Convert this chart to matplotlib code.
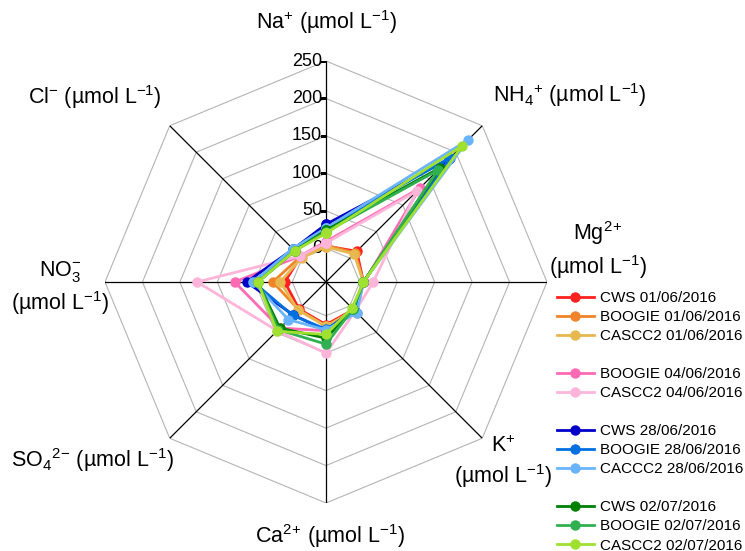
import numpy as np
import matplotlib
matplotlib.use("Agg")
import matplotlib.pyplot as plt
from matplotlib.lines import Line2D
from matplotlib.transforms import offset_copy

plt.rcParams['font.family'] = ['Liberation Sans', 'DejaVu Sans']
plt.rcParams['mathtext.default'] = 'regular'

# axes, clockwise from the top
ions = ['Na', 'NH4', 'Mg', 'K', 'Ca', 'SO4', 'NO3', 'Cl']
ion_labels = [r'Na$^{+}$ (µmol L$^{-1}$)',
              r'NH$_4$$^{+}$ (µmol L$^{-1}$)',
              'Mg$^{2}$$^{+}$\n(µmol L$^{-1}$)',
              'K$^{+}$\n(µmol L$^{-1}$)',
              r'Ca$^{2}$$^{+}$ (µmol L$^{-1}$)',
              r'SO$_4$$^{2}$$^{-}$ (µmol L$^{-1}$)',
              'NO$_3^{-}$\n(µmol L$^{-1}$)',
              r'Cl$^{-}$ (µmol L$^{-1}$)']
ticks = [0, 50, 100, 150, 200, 250]

# concentrations (µmol/L): Na, NH4, Mg, K, Ca, SO4, NO3, Cl
cws_0106     = [3, 13, 5, 7, 12, 6, 10, 3]
boogie_0106  = [4, 10, 5, 13, 14, 7, 26, 3]
cascc2_0106  = [2, 8, 5, 8, 14, 8, 16, 1]
boogie_0406  = [9, 132, 6, 7, 20, 42, 77, 4]
cascc2_0406  = [7, 127, 18, 10, 50, 47, 127, 4]
cws_2806     = [32, 187, 5, 7, 20, 17, 61, 17]
boogie_2806  = [27, 190, 5, 10, 18, 18, 52, 17]
caccc2_2806  = [27, 223, 5, 13, 19, 26, 52, 18]
cws_0207     = [24, 171, 5, 6, 30, 42, 46, 14]
boogie_0207  = [22, 166, 5, 6, 38, 45, 46, 14]
cascc2_0207  = [20, 212, 5, 4, 25, 48, 46, 14]

series = [
    ('CWS 01/06/2016', cws_0106, '#FF2020'),
    ('BOOGIE 01/06/2016', boogie_0106, '#F08428'),
    ('CASCC2 01/06/2016', cascc2_0106, '#E8B850'),
    None,
    ('BOOGIE 04/06/2016', boogie_0406, '#FF6AB4'),
    ('CASCC2 04/06/2016', cascc2_0406, '#FFB4DA'),
    None,
    ('CWS 28/06/2016', cws_2806, '#0000C8'),
    ('BOOGIE 28/06/2016', boogie_2806, '#0070E0'),
    ('CACCC2 28/06/2016', caccc2_2806, '#6AB4FF'),
    None,
    ('CWS 02/07/2016', cws_0207, '#008000'),
    ('BOOGIE 02/07/2016', boogie_0207, '#30B050'),
    ('CASCC2 02/07/2016', cascc2_0207, '#A0E030'),
]

W, H = 745, 551
fig = plt.figure(figsize=(W / 100, H / 100), dpi=100)

cx, cy, R = 326, 282, 221
ax = fig.add_axes([(cx - R) / W, (H - cy - R) / H, 2 * R / W, 2 * R / H],
                  projection='polar')
ax.set_theta_zero_location('N')
ax.set_theta_direction(-1)
ax.set_ylim(-45, 250)
ax.set_xticks([])
ax.set_yticks([])
ax.grid(False)
ax.spines['polar'].set_visible(False)

n = len(ions)
angles = np.arange(n) * 2 * np.pi / n
closed = np.append(angles, angles[0])

# octagon grid
for t in ticks:
    ax.plot(closed, [t] * (n + 1), color='#B4B4B4', lw=0.8, zorder=1)
for a in angles:
    ax.plot([a, a], [-45, 250], color='black', lw=0.9, zorder=1.5)

# tick marks and labels on the top axis
ax.plot([0] * len(ticks), ticks, linestyle='none', marker=0, markersize=4,
        color='black', markeredgewidth=0.9, zorder=1.5)
lab_tr = offset_copy(ax.transData, fig=fig, x=-4, y=0, units='dots')
for t in ticks:
    ax.text(0, t, str(t), transform=lab_tr, ha='right', va='center',
            fontsize=13, zorder=1.6)

handles, labels = [], []
for s in series:
    if s is None:
        handles.append(Line2D([], [], linestyle='none'))
        labels.append(' ')
        continue
    name, vals, col = s
    ax.plot(closed, vals + vals[:1], color=col, lw=2.0, marker='o',
            markersize=7.5, markeredgewidth=0, zorder=3, clip_on=False)
    handles.append(Line2D([], [], color=col, lw=2.0, marker='o',
                          markersize=7.5, markeredgewidth=0))
    labels.append(name)

# axis titles
label_pos = [(326, 22), (570, 95), (598, 250), (503, 463),
             (330, 536), (92, 460), (60, 288), (95, 97)]
for txt, (x, y) in zip(ion_labels, label_pos):
    fig.text(x / W, 1 - y / H, txt, ha='center', va='center',
             fontsize=15.5, linespacing=1.25, multialignment='center')

fig.legend(handles, labels, loc='upper left',
           bbox_to_anchor=(557 / W, 1 - 291 / H), frameon=False,
           fontsize=11, handlelength=2.4, handletextpad=0.4,
           labelspacing=0.33, borderpad=0, borderaxespad=0)

fig.savefig('out.png', dpi=100)
